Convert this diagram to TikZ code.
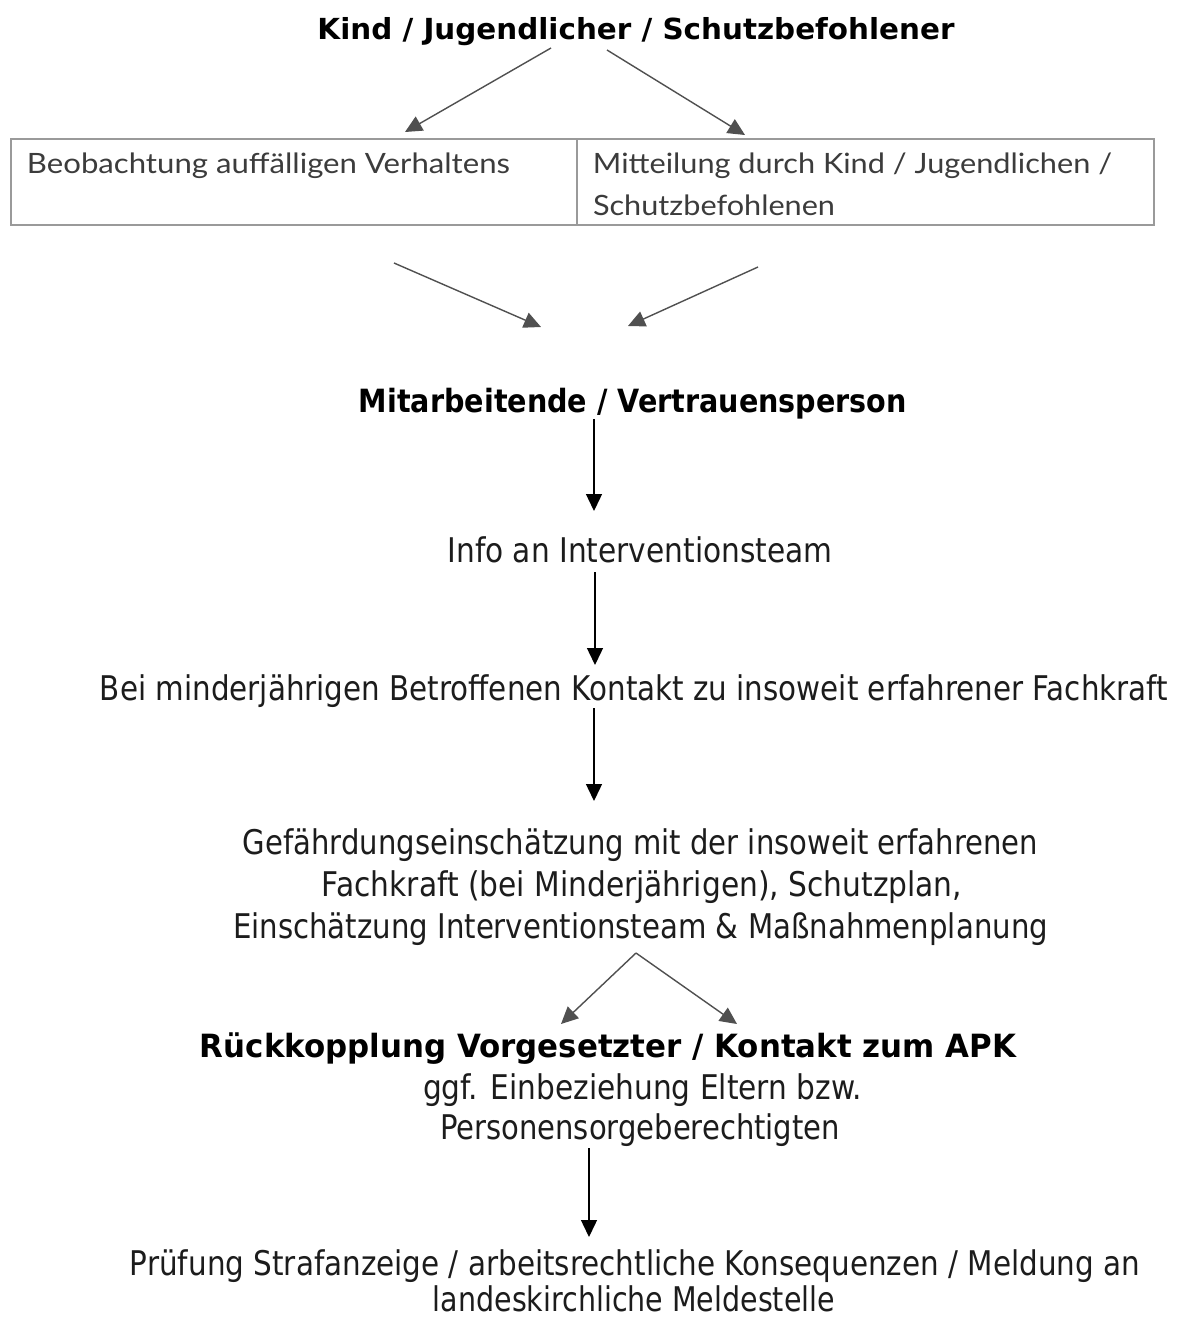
\documentclass[tikz,border=0pt]{standalone}
\usepackage{fontspec}
\setmainfont{DejaVu Sans}
\newfontfamily\latofont{Lato}
\usetikzlibrary{arrows.meta}
\newcommand{\fw}[2]{\resizebox{#1}{\height}{#2}}
\definecolor{txtgray}{HTML}{1C1C1C}
\definecolor{tblgray}{HTML}{3C3C3C}
\definecolor{linegray}{HTML}{9A9A9A}
\definecolor{arrgray}{HTML}{505050}
\begin{document}
\begin{tikzpicture}[x=1pt,y=-1pt,
  txt/.style={anchor=base, inner sep=0pt, text=txtgray, font=\fontsize{34}{41}\selectfont},
  btxt/.style={anchor=base, inner sep=0pt, text=black, font=\fontsize{32}{38}\selectfont\bfseries},
  ttxt/.style={anchor=base, inner sep=0pt, text=tblgray, font=\latofont\fontsize{28}{34}\selectfont},
  cell/.style={draw=linegray, line width=2pt, inner sep=0pt},
  darr/.style={draw=arrgray, line width=1.4pt, -{Triangle[width=16pt,length=17pt]}},
  varr/.style={draw=black, line width=1.4pt, -{Triangle[width=16pt,length=17pt]}}
]
\useasboundingbox[fill=white] (0,0) rectangle (1176,1317);

% title
\node[btxt, font=\fontsize{29}{35}\selectfont\bfseries] (title) at (636,39) {\fw{637pt}{Kind / Jugendlicher / Schutzbefohlener}};

% table
\node[cell, minimum width=566pt, minimum height=86pt] (cellL) at (294,182) {};
\node[cell, minimum width=577pt, minimum height=86pt] (cellR) at (865.5,182) {};
\node[ttxt] (tL) at (268.5,173) {\fw{483pt}{Beobachtung auffälligen Verhaltens}};
\node[ttxt] (tR1) at (852.5,173) {\fw{519pt}{Mitteilung durch Kind / Jugendlichen /}};
\node[ttxt] (tR2) at (714,215) {\fw{242pt}{Schutzbefohlenen}};

% arrows from title
\coordinate (a1s) at (551,48); \coordinate (a1e) at (405,132);
\coordinate (a2s) at (607,50); \coordinate (a2e) at (745,135);
\draw[darr] (a1s) -- (a1e);
\draw[darr] (a2s) -- (a2e);

% arrows to Mitarbeitende
\coordinate (b1s) at (394,263); \coordinate (b1e) at (541,327);
\coordinate (b2s) at (758,267); \coordinate (b2e) at (628,326);
\draw[darr] (b1s) -- (b1e);
\draw[darr] (b2s) -- (b2e);

\node[btxt] (mit) at (633,412) {\fw{548pt}{Mitarbeitende / Vertrauensperson}};

\coordinate (c1s) at (594,419); \coordinate (c1e) at (594,511);
\draw[varr] (c1s) -- (c1e);

\node[txt] (info) at (640,562) {\fw{385pt}{Info an Interventionsteam}};

\coordinate (c2s) at (595,572); \coordinate (c2e) at (595,665);
\draw[varr] (c2s) -- (c2e);

\node[txt] (bei) at (634,700) {\fw{1068pt}{Bei minderjährigen Betroffenen Kontakt zu insoweit erfahrener Fachkraft}};

\coordinate (c3s) at (594,708); \coordinate (c3e) at (594,801);
\draw[varr] (c3s) -- (c3e);

\node[txt] (g1) at (640.5,854) {\fw{795pt}{Gefährdungseinschätzung mit der insoweit erfahrenen}};
\node[txt] (g2) at (642,896) {\fw{640pt}{Fachkraft (bei Minderjährigen), Schutzplan,}};
\node[txt] (g3) at (640.5,938) {\fw{815pt}{Einschätzung Interventionsteam \& Maßnahmenplanung}};

\coordinate (d0) at (636,953);
\coordinate (d1e) at (561,1024); \coordinate (d2e) at (737,1024);
\draw[darr] (d0) -- (d1e);
\draw[darr] (d0) -- (d2e);

\node[btxt] (rueck) at (608,1057) {\fw{816pt}{Rückkopplung Vorgesetzter / Kontakt zum APK}};
\node[txt] (ggf) at (642.5,1099) {\fw{439pt}{ggf. Einbeziehung Eltern bzw.}};
\node[txt] (pers) at (640,1139) {\fw{400pt}{Personensorgeberechtigten}};

\coordinate (e1s) at (589,1148); \coordinate (e1e) at (589,1237);
\draw[varr] (e1s) -- (e1e);

\node[txt] (pr1) at (635,1275) {\fw{1010pt}{Prüfung Strafanzeige / arbeitsrechtliche Konsequenzen / Meldung an}};
\node[txt] (pr2) at (634,1311) {\fw{402pt}{landeskirchliche Meldestelle}};
\end{tikzpicture}
\end{document}
